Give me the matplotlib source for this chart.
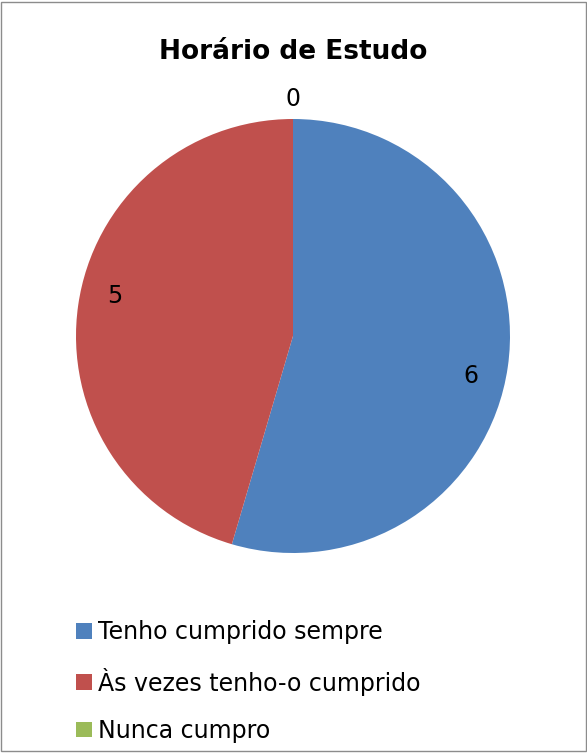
import numpy as np
import matplotlib.pyplot as plt
from matplotlib.patches import Patch, Rectangle

# --- Data ---
TITLE = "Horário de Estudo"
categories = ["Tenho cumprido sempre", "Às vezes tenho-o cumprido", "Nunca cumpro"]
values = [6, 5, 0]
colors = ["#4F81BD", "#C0504D", "#9BBB59"]

plt.rcParams['font.family'] = ['DejaVu Sans']

fig = plt.figure(figsize=(5.87, 7.53), dpi=100)
fig.patch.set_facecolor("white")

# outer chart frame
fig.patches.append(Rectangle((0.002, 0.002), 0.996, 0.996, transform=fig.transFigure,
                             fill=False, edgecolor="#8c8c8c", linewidth=1.0))

# pie axes: center (293, 336) px, radius ~217 px
r_px = 217
cx, cy = 293, 336
ax = fig.add_axes([(cx - r_px) / 587, (753 - cy - r_px) / 753, 2 * r_px / 587, 2 * r_px / 753])

wedges, texts = ax.pie(values, colors=colors, startangle=90, counterclock=False,
                       labels=[str(v) for v in values], labeldistance=0.84,
                       wedgeprops=dict(linewidth=0),
                       textprops=dict(fontsize=17, color="black"))
ax.set_aspect("equal")
ax.set_xlim(-1, 1)
ax.set_ylim(-1, 1)

# Excel-like label placement (slightly rotated), zero label outside the pie
for w, t, v in zip(wedges, texts, values):
    t.set_ha("center")
    t.set_va("center")
    ang = (w.theta1 + w.theta2) / 2
    if v == 0:
        dist = 1.09
    else:
        ang -= 4.5
        dist = 0.84
    ang = np.deg2rad(ang)
    t.set_position((dist * np.cos(ang), dist * np.sin(ang)))

fig.text(0.5, 1 - 52 / 753, TITLE, ha="center", va="center", fontsize=19, fontweight="bold")

handles = [Patch(facecolor=c, edgecolor="none") for c in colors]
fig.legend(handles, categories, loc="upper left", bbox_to_anchor=(67 / 587, 1 - 611 / 753),
           frameon=False, fontsize=17, handlelength=0.65, handleheight=0.65,
           handletextpad=0.25, labelspacing=0.98, borderaxespad=0)

plt.savefig("out.png", dpi=100)
